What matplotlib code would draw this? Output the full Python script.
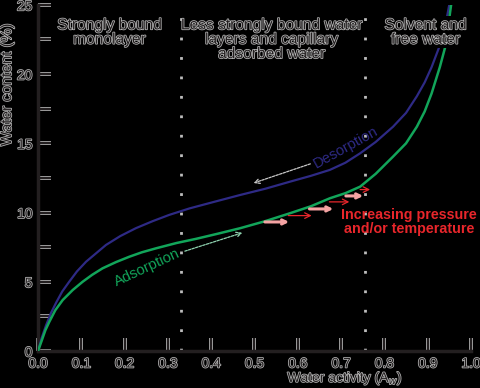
import numpy as np
import matplotlib
matplotlib.use('Agg')
import matplotlib.pyplot as plt
import matplotlib.patheffects as pe

# Desorption (upper) and adsorption (lower) isotherms
desorp_aw = [0.0, 0.008, 0.0185, 0.03, 0.042, 0.056, 0.072, 0.09, 0.111, 0.157,
             0.19, 0.226, 0.265, 0.303, 0.35, 0.41, 0.467, 0.525, 0.582, 0.63,
             0.674, 0.71, 0.744, 0.78, 0.82, 0.85, 0.875, 0.893, 0.909, 0.926,
             0.937, 0.945, 0.951]
desorp_wc = [0.0, 0.9, 1.85, 2.75, 3.5, 4.3, 5.0, 5.75, 6.45, 7.66,
             8.3, 8.87, 9.38, 9.83, 10.3, 10.8, 11.27, 11.72, 12.23, 12.65,
             13.08, 13.6, 14.28, 15.1, 16.2, 17.2, 18.4, 19.4, 20.5, 21.9,
             23.0, 24.2, 25.2]
adsorp_aw = [0.0, 0.008, 0.017, 0.026, 0.04, 0.057, 0.08, 0.103, 0.125, 0.149,
             0.18, 0.211, 0.24, 0.273, 0.32, 0.365, 0.415, 0.467, 0.525, 0.582,
             0.63, 0.674, 0.71, 0.744, 0.78, 0.82, 0.85, 0.875, 0.893, 0.909,
             0.928, 0.94, 0.948, 0.955]
adsorp_wc = [0.0, 0.7, 1.5, 2.1, 2.95, 3.68, 4.4, 5.0, 5.5, 5.97,
             6.42, 6.81, 7.13, 7.42, 7.8, 8.1, 8.47, 8.87, 9.38, 9.95,
             10.45, 11.03, 11.4, 11.87, 12.8, 14.04, 15.0, 16.2, 17.3, 18.6,
             20.5, 21.9, 23.6, 25.2]

# zone boundaries (dotted lines)
zone_bounds = [0.33, 0.755]

# staircase of arrows: (x start, x end, y)
pink_arrows = [(0.524, 0.580, 9.32), (0.627, 0.682, 10.26), (0.711, 0.751, 11.2)]
red_arrows = [(0.578, 0.632, 9.78), (0.673, 0.719, 10.77), (0.744, 0.767, 11.66)]

blue = '#2e2a85'
green = '#12a55a'
dark = '#231f20'
sans = 'Liberation Sans'
halo = [pe.withStroke(linewidth=1.1, foreground='#b8b8b8')]

fig = plt.figure(figsize=(4.8, 3.88), dpi=100, facecolor='black')
ax = fig.add_axes([0.0792, 0.0954, 0.902, 0.892])
ax.set_facecolor('black')

for xb in zone_bounds:
    ax.plot([xb, xb], [0, 25], color='#bdbdbd', lw=2, dashes=(1, 6), zorder=1)

ax.plot(desorp_aw, desorp_wc, color=blue, lw=1.6, zorder=3)
ax.plot(adsorp_aw, adsorp_wc, color=green, lw=1.8, zorder=3)

# direction arrows along the curves
ax.annotate('', xy=(0.492, 12.07), xytext=(0.635, 13.58),
            arrowprops=dict(arrowstyle='->,head_length=0.35,head_width=0.18',
                            color='#c8c8c8', lw=0.9, linestyle=(0, (2, 1))))
ax.annotate('', xy=(0.478, 8.6), xytext=(0.333, 7.15),
            arrowprops=dict(arrowstyle='->,head_length=0.35,head_width=0.18',
                            color='#8fd3b0', lw=0.9, linestyle=(0, (2, 1))))
for x0, x1, y in pink_arrows:
    ax.annotate('', xy=(x1, y), xytext=(x0, y),
                arrowprops=dict(arrowstyle='->,head_length=0.3,head_width=0.15',
                                color='#f4a3a3', lw=2.2, shrinkA=0, shrinkB=0))
for x0, x1, y in red_arrows:
    ax.annotate('', xy=(x1, y), xytext=(x0, y),
                arrowprops=dict(arrowstyle='->,head_length=0.4,head_width=0.2',
                                color='#e8262b', lw=0.9, shrinkA=0, shrinkB=0))

txt = dict(ha='center', va='top', color=dark, fontsize=11.2, linespacing=0.95,
           family=sans, path_effects=halo)
ax.text(0.165, 24.1, 'Strongly bound\nmonolayer', **txt)
ax.text(0.539, 24.1, 'Less strongly bound water\nlayers and capillary\nadsorbed water', **txt)
ax.text(0.895, 24.1, 'Solvent and\nfree water', zorder=5,
        bbox=dict(facecolor='black', edgecolor='none', pad=1), **txt)

ax.text(0.711, 14.7, 'Desorption', color=blue, fontsize=10.6, rotation=29,
        ha='center', va='center', family=sans)
ax.text(0.253, 6.0, 'Adsorption', color=green, fontsize=10.6, rotation=25,
        ha='center', va='center', family=sans)
ax.text(0.857, 9.32, 'Increasing pressure\nand/or temperature', color='#e8262b',
        fontsize=10.3, fontweight='bold', ha='center', va='center',
        linespacing=1.05, family=sans)

ax.set_xlim(0, 1)
ax.set_ylim(0, 25)
ax.set_xticks(np.arange(0, 1.01, 0.1))
ax.set_xticklabels([f'{v:.1f}' for v in np.arange(0, 1.01, 0.1)])
ax.set_yticks([0, 5, 10, 15, 20, 25])
ax.set_yticks(np.arange(2.5, 25, 5), minor=True)
for s in ['top', 'right']:
    ax.spines[s].set_visible(False)
for s in ['left', 'bottom']:
    ax.spines[s].set_color(dark)
    ax.spines[s].set_linewidth(2.5)
ax.tick_params(which='both', direction='in', length=9, width=1.6, color=dark,
               labelcolor=dark, labelsize=10, pad=4)
for lab in ax.get_xticklabels() + ax.get_yticklabels():
    lab.set_path_effects(halo)
    lab.set_family(sans)
for t in ax.xaxis.get_major_ticks() + ax.yaxis.get_major_ticks() + ax.yaxis.get_minor_ticks():
    t.tick1line.set_path_effects([pe.withStroke(linewidth=2.8, foreground='#b0b0b0')])

ax.set_xlabel('Water activity (A$_w$)', color=dark, fontsize=10,
              family=sans, path_effects=halo)
ax.set_ylabel('Water content (%)', color=dark, fontsize=11,
              family=sans, path_effects=halo)
ax.xaxis.set_label_coords(0.709, -0.052)
ax.yaxis.set_label_coords(-0.055, 0.769)

fig.savefig('out.png', dpi=100, facecolor='black')
